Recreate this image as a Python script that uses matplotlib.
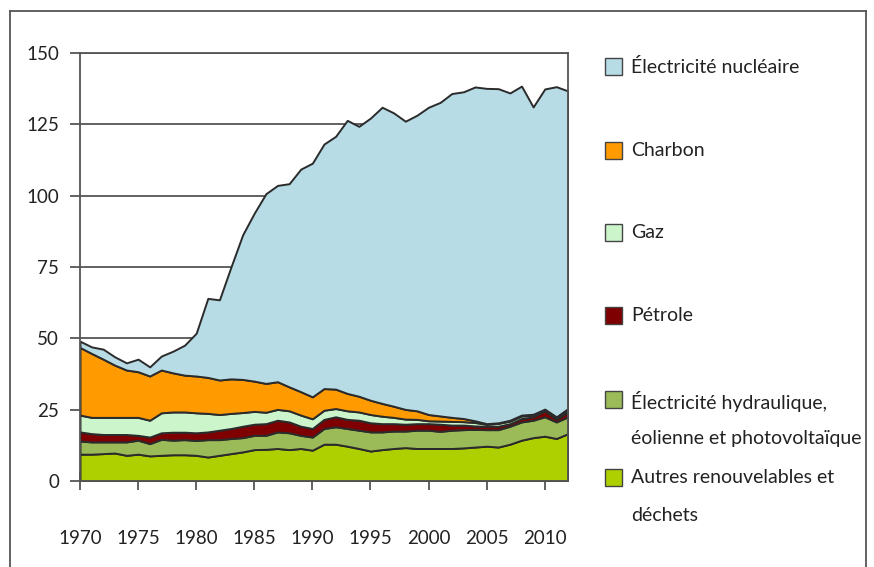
import numpy as np
import matplotlib.pyplot as plt
from matplotlib.patches import Rectangle
from matplotlib.lines import Line2D

plt.rcParams['font.family'] = ['Lato', 'DejaVu Sans']

# ----------------------------------------
# Data
# ----------------------------------------
years = np.arange(1970, 2013)

autres = [9.4, 9.4, 9.6, 9.8, 9.0, 9.4, 8.8, 9.0, 9.2, 9.2,
          9.0, 8.4, 9.0, 9.6, 10.2, 11.0, 11.1, 11.4, 11.0, 11.4,
          10.8, 12.9, 12.9, 12.2, 11.4, 10.5, 11.0, 11.4, 11.7, 11.4,
          11.4, 11.4, 11.4, 11.6, 11.9, 12.2, 11.9, 12.9, 14.3, 15.2,
          15.7, 14.9, 16.6]
hydro = [4.6, 4.3, 4.1, 3.9, 4.7, 4.9, 4.3, 5.6, 5.1, 5.3,
         5.2, 6.1, 5.5, 5.3, 5.0, 5.0, 4.9, 5.8, 5.9, 4.6,
         4.6, 5.5, 6.1, 6.2, 6.4, 6.7, 6.2, 6.1, 5.8, 6.4,
         6.4, 6.0, 6.4, 6.4, 6.2, 5.8, 6.1, 6.3, 6.4, 6.1,
         6.8, 5.8, 5.9]
petrole = [3.2, 2.9, 2.6, 2.6, 2.6, 1.7, 2.3, 2.3, 2.8, 2.6,
           2.7, 2.7, 3.3, 3.5, 4.0, 3.9, 4.1, 4.1, 3.8, 3.2,
           3.0, 3.2, 3.5, 3.2, 3.5, 3.2, 2.9, 2.6, 2.4, 2.3,
           2.3, 2.5, 1.8, 1.6, 1.2, 1.2, 1.2, 0.9, 1.2, 1.2,
           2.1, 1.0, 1.7]
gaz = [5.9, 5.7, 6.0, 6.0, 6.0, 6.3, 5.9, 7.0, 7.1, 7.1,
       7.0, 6.5, 5.5, 5.3, 4.8, 4.5, 4.0, 3.8, 3.9, 3.9,
       3.4, 3.2, 2.9, 3.0, 2.9, 2.9, 2.6, 2.2, 1.8, 1.5,
       1.0, 1.1, 1.3, 1.2, 1.2, 0.7, 1.0, 0.9, 0.9, 0.6,
       0.3, 0.5, 0.9]
charbon = [23.7, 22.4, 20.4, 18.3, 16.6, 16.0, 15.5, 15.0, 13.7, 12.9,
           12.9, 12.6, 12.1, 12.1, 11.6, 10.6, 10.1, 9.7, 8.4, 8.2,
           7.7, 7.6, 6.8, 6.1, 5.5, 5.0, 4.5, 3.9, 3.4, 3.0,
           2.2, 1.8, 1.4, 1.1, 0.6, 0.2, 0.2, 0.3, 0.3, 0.3,
           0.3, 0.3, 0.3]
nucleaire = [2.2, 2.3, 3.5, 2.9, 2.5, 4.4, 3.2, 4.9, 7.6, 10.5,
             15.0, 27.7, 28.1, 39.3, 50.7, 58.9, 66.5, 68.8, 71.2, 78.0,
             81.9, 85.7, 88.6, 95.7, 94.6, 98.9, 103.8, 102.8, 101.0, 103.6,
             107.7, 109.9, 113.5, 114.5, 117.0, 117.5, 117.1, 114.7, 115.3, 107.7,
             112.2, 115.7, 111.3]

labels = ['Autres renouvelables et\ndéchets',
          'Électricité hydraulique,\néolienne et photovoltaïque',
          'Pétrole', 'Gaz', 'Charbon', 'Électricité nucléaire']
colors = ['#afd000', '#9bbb59', '#7f0000', '#ccf5cc', '#ff9a00', '#b7dce6']

# ----------------------------------------
# Figure
# ----------------------------------------
fig = plt.figure(figsize=(8.74, 5.67), dpi=100)
ax = fig.add_axes([80 / 874, 1 - 481 / 567, 488 / 874, 428 / 567])

ax.stackplot(years, autres, hydro, petrole, gaz, charbon, nucleaire,
             colors=colors, edgecolor='#2b2b2b', linewidth=1.4, zorder=2)

ax.set_xlim(1970, 2012)
ax.set_ylim(0, 150)
ax.set_yticks(np.arange(0, 151, 25))
ax.set_xticks(np.arange(1970, 2011, 5))
ax.yaxis.grid(True, color='#555555', linewidth=1.3, zorder=0)
ax.set_axisbelow(True)

for side in ['left', 'right', 'top', 'bottom']:
    ax.spines[side].set_color('#555555')
    ax.spines[side].set_linewidth(1.3)

ax.tick_params(axis='y', direction='out', length=7, width=1.3, color='#555555',
               pad=8, labelsize=13.5, labelcolor='#222222')
ax.tick_params(axis='x', direction='inout', length=13, width=1.3, color='#555555',
               pad=29, labelsize=13.5, labelcolor='#222222')

# ----------------------------------------
# Legend drawn by hand on the right
# ----------------------------------------
rows_y = [478, 400, 316, 233, 151, 67]
spacing = [2.5, 2.3, 1.8, 1.8, 1.8, 1.8]
for lab, col, yp, ls in zip(labels, colors, rows_y, spacing):
    fig.patches.append(Rectangle((605 / 874, 1 - (yp + 8) / 567), 17 / 874, 17 / 567,
                                 transform=fig.transFigure, facecolor=col,
                                 edgecolor='#444444', linewidth=1.0))
    fig.text(631 / 874, 1 - (yp - 9) / 567, lab, ha='left', va='top',
             fontsize=14, color='#222222', linespacing=ls)

# Outer frame
frame = dict(transform=fig.transFigure, color='#555555', linewidth=1.3)
fig.add_artist(Line2D([10 / 874, 10 / 874], [0, 1 - 11 / 567], **frame))
fig.add_artist(Line2D([10 / 874, 866 / 874], [1 - 11 / 567, 1 - 11 / 567], **frame))
fig.add_artist(Line2D([866 / 874, 866 / 874], [0, 1 - 11 / 567], **frame))

plt.savefig('out.png', dpi=100)
